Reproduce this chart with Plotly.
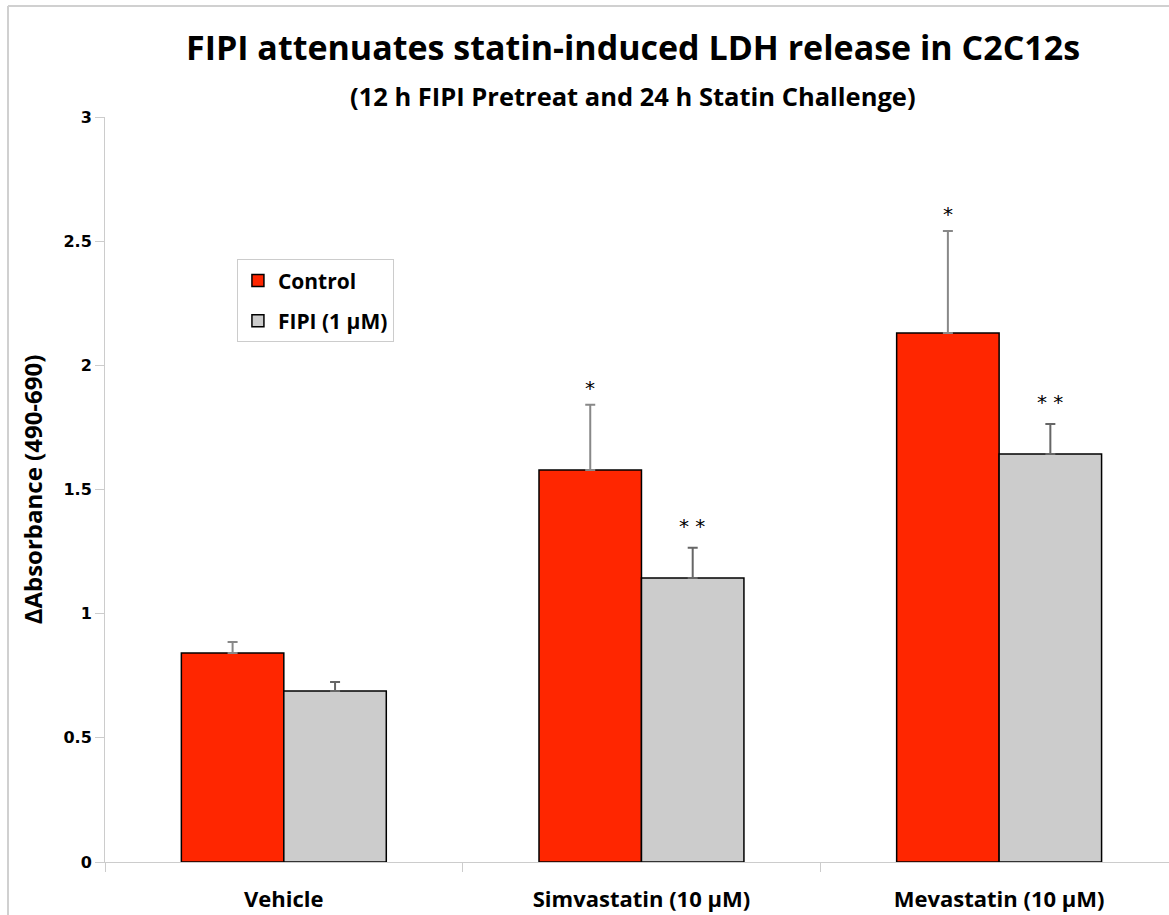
import plotly.graph_objects as go

categories = ["Vehicle", "Simvastatin (10 µM)", "Mevastatin (10 µM)"]
control_vals = [0.842, 1.579, 2.130]
control_err = [0.044, 0.262, 0.411]
fipi_vals = [0.689, 1.144, 1.643]
fipi_err = [0.036, 0.121, 0.121]
control_stars = ["", "*", "*"]
fipi_stars = ["", "* *", "* *"]

FONT = "Open Sans, sans-serif"

fig = go.Figure()
fig.add_trace(go.Bar(
    name="Control", x=categories, y=control_vals, legendgroup="a",
    marker=dict(color="#FF2600", line=dict(color="black", width=1.5)),
    error_y=dict(type="data", array=control_err, symmetric=False, arrayminus=[0, 0, 0],
                 color="#888888", thickness=2, width=5),
))
fig.add_trace(go.Bar(
    name="FIPI (1 µM)", x=categories, y=fipi_vals, legendgroup="b",
    marker=dict(color="#CCCCCC", line=dict(color="black", width=1.5)),
    error_y=dict(type="data", array=fipi_err, symmetric=False, arrayminus=[0, 0, 0],
                 color="#666666", thickness=2, width=5),
))

annotations = [
    dict(text="<b>FIPI attenuates statin-induced LDH release in C2C12s</b>",
         xref="paper", yref="paper", x=0.496, y=(862 - 47) / 745,
         xanchor="center", yanchor="middle", showarrow=False,
         font=dict(family=FONT, size=34, color="black")),
    dict(text="<b>(12 h FIPI Pretreat and 24 h Statin Challenge)</b>",
         xref="paper", yref="paper", x=0.496, y=(862 - 96) / 745,
         xanchor="center", yanchor="middle", showarrow=False,
         font=dict(family=FONT, size=25.5, color="black")),
]
for cat, v, e, s in zip(categories, control_vals, control_err, control_stars):
    if s:
        annotations.append(dict(x=cat, y=v + e, text=s, showarrow=False, xshift=-51,
                                yanchor="bottom", yshift=3,
                                font=dict(family="DejaVu Sans", size=20, color="black")))
for cat, v, e, s in zip(categories, fipi_vals, fipi_err, fipi_stars):
    if s:
        annotations.append(dict(x=cat, y=v + e, text=s, showarrow=False, xshift=51,
                                yanchor="bottom", yshift=8,
                                font=dict(family="DejaVu Sans", size=20, color="black")))

fig.update_layout(
    width=1169, height=915,
    margin=dict(l=105, r=0, t=117, b=53),
    paper_bgcolor="white", plot_bgcolor="white",
    barmode="group", bargap=0.427, bargroupgap=0,
    annotations=annotations,
    legend=dict(
        x=0.124, y=0.809, xanchor="left", yanchor="top",
        bordercolor="#CCCCCC", borderwidth=1, bgcolor="white",
        font=dict(family=FONT, size=21, color="black", weight="bold"),
        itemwidth=30, tracegroupgap=10,
    ),
    xaxis=dict(
        range=[-0.5, 2.475], showline=True, linecolor="#CCCCCC", linewidth=1,
        ticks="outside", tickson="boundaries", ticklen=9, tickcolor="#CCCCCC",
        showgrid=False, ticklabelstandoff=18,
        tickfont=dict(family=FONT, size=22, color="black", weight="bold"),
    ),
    yaxis=dict(
        range=[0, 3], tickvals=[0, 0.5, 1, 1.5, 2, 2.5, 3],
        ticktext=["0", "0.5", "1", "1.5", "2", "2.5", "3"],
        showline=True, linecolor="#CCCCCC", linewidth=1,
        ticks="outside", ticklen=9, tickcolor="#CCCCCC",
        showgrid=False, zeroline=False,
        tickfont=dict(family="DejaVu Sans", size=16, color="black", weight="bold"),
        title=dict(text="ΔAbsorbance (490-690)",
                   font=dict(family=FONT, size=24, color="black", weight="bold"),
                   standoff=14),
    ),
    shapes=[
        dict(type="line", xref="paper", yref="paper",
             x0=(8 - 105) / 1064, x1=(1169 - 105) / 1064,
             y0=(862 - 6) / 745, y1=(862 - 6) / 745,
             line=dict(color="#D0D0D0", width=2)),
        dict(type="line", xref="paper", yref="paper",
             x0=(8 - 105) / 1064, x1=(8 - 105) / 1064,
             y0=(862 - 6) / 745, y1=(862 - 915) / 745,
             line=dict(color="#D0D0D0", width=2)),
    ],
)

fig.write_html("out.html")
